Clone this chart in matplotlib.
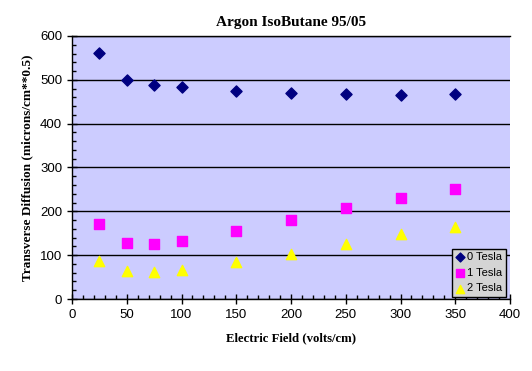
import matplotlib
matplotlib.use("Agg")
import matplotlib.pyplot as plt
from matplotlib.ticker import MultipleLocator

field = [25, 50, 75, 100, 150, 200, 250, 300, 350]
tesla0 = [561, 500, 488, 484, 475, 470, 468, 466, 467]
tesla1 = [171, 128, 126, 133, 155, 180, 208, 230, 251]
tesla2 = [87, 64, 62, 66, 84, 103, 125, 148, 164]
labels = ["0 Tesla", "1 Tesla", "2 Tesla"]

fig = plt.figure(figsize=(5.32, 3.71), dpi=100)
ax = fig.add_axes([72/532, 72/371, 438/532, 263/371])
ax.set_facecolor("#CCCCFF")

ax.scatter(field, tesla0, marker="D", s=32, color="#000080", label=labels[0], zorder=3)
ax.scatter(field, tesla1, marker="s", s=44, color="#FF00FF", label=labels[1], zorder=3)
ax.scatter(field, tesla2, marker="^", s=55, color="#FFFF00", label=labels[2], zorder=3)

ax.set_xlim(0, 400)
ax.set_ylim(0, 600)
ax.xaxis.set_major_locator(MultipleLocator(50))
ax.xaxis.set_minor_locator(MultipleLocator(10))
ax.yaxis.set_major_locator(MultipleLocator(100))
ax.yaxis.set_minor_locator(MultipleLocator(20))
ax.tick_params(which="major", direction="inout", length=7, width=1, colors="black",
               labelsize=9.5, labelcolor="#000000")
ax.tick_params(which="minor", direction="in", length=3, width=1)
for lab in ax.get_xticklabels() + ax.get_yticklabels():
    lab.set_family("Liberation Sans")

ax.grid(axis="y", which="major", color="black", linewidth=1)
ax.set_axisbelow(True)
for s in ["top", "right"]:
    ax.spines[s].set_visible(False)
for s in ["left", "bottom"]:
    ax.spines[s].set_linewidth(1)
ax.axhline(600, color="black", linewidth=1, clip_on=False)

ax.set_title("Argon IsoButane 95/05", family="Liberation Serif", fontweight="bold",
             fontsize=11, pad=7)
ax.set_xlabel("Electric Field (volts/cm)", family="Liberation Serif", fontweight="bold",
              fontsize=9.2, labelpad=8)
ax.set_ylabel("Transverse Diffusion (microns/cm**0.5)", family="Liberation Serif",
              fontweight="bold", fontsize=9.5, labelpad=5)

leg = ax.legend(loc="lower right", bbox_to_anchor=(0.995, 0.0),
                prop={"family": "Liberation Sans", "size": 8},
                frameon=True, fancybox=False, framealpha=1, edgecolor="black",
                facecolor="#D4D4D4", handletextpad=0.1, borderpad=0.3,
                labelspacing=0.5, handlelength=1.0, markerscale=0.8, borderaxespad=0.2)
leg.get_frame().set_linewidth(1)

fig.savefig("out.png", dpi=100)
